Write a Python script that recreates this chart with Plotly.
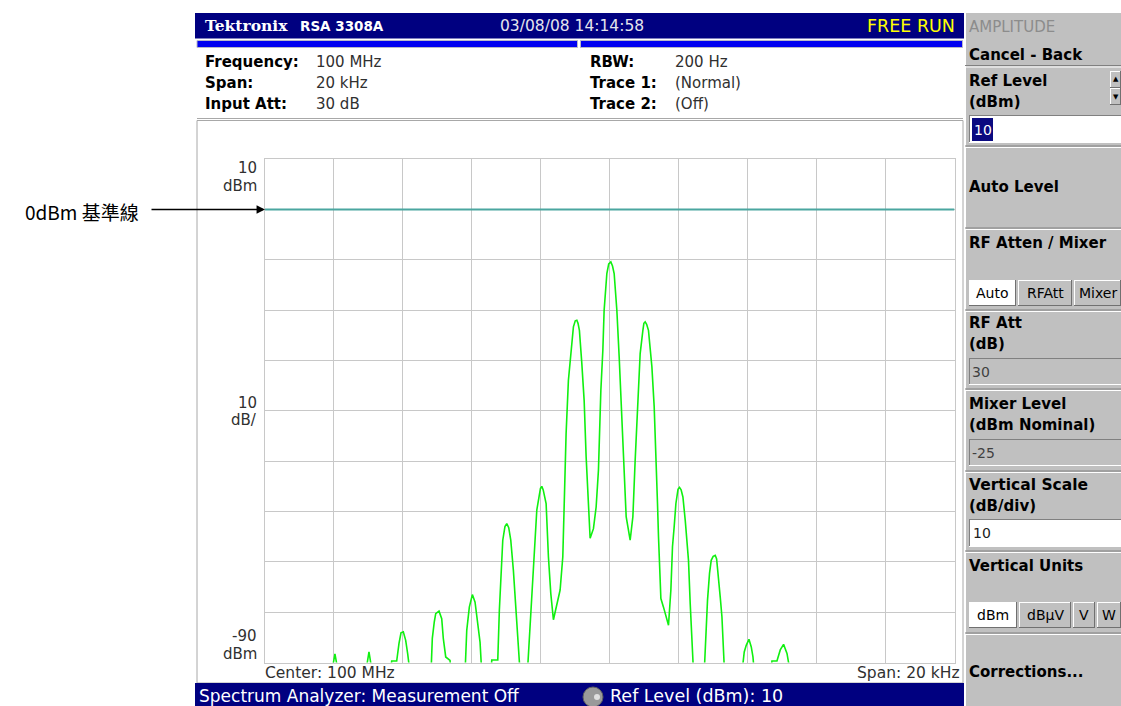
import plotly.graph_objects as go

# ---------------- data ----------------
# frequency offset from center (kHz) and level (dBm)
trace_khz = [-10.0, -8.067, -7.971, -7.875, -7.080, -6.984, -6.888,
             -6.360, -6.325, -6.180, -6.113, -6.055, -5.988, -5.919, -5.861, -5.794,
             -5.184, -5.147, -5.089, -5.048, -4.952, -4.874, -4.828, -4.758, -4.633, -4.604,
             -4.197, -4.148, -4.073, -3.985, -3.907, -3.840, -3.762, -3.713,
             -3.443, -3.422, -3.277, -3.248, -3.202, -3.152, -3.103, -3.040, -2.987, -2.930, -2.871, -2.795, -2.717, -2.650, -2.601,
             -2.389, -2.331, -2.261, -2.194, -2.116, -2.010, -1.971, -1.930, -1.846, -1.779, -1.710, -1.634, -1.536, -1.440,
             -1.362, -1.332, -1.266, -1.199, -1.129, -1.054, -1.000, -0.955, -0.920, -0.880, -0.810, -0.743, -0.685, -0.618, -0.569,
             -0.473, -0.395, -0.328, -0.258, -0.200, -0.163, -0.084, -0.030, 0.032, 0.080, 0.128, 0.206, 0.273, 0.331, 0.398, 0.476,
             0.592, 0.671, 0.737, 0.804, 0.882, 0.961, 0.990, 1.028, 1.070, 1.123, 1.222, 1.289, 1.347, 1.385, 1.414, 1.443, 1.483,
             1.559, 1.704, 1.773, 1.820, 1.869, 1.919, 1.980, 2.023, 2.070, 2.122, 2.189, 2.284, 2.334, 2.383, 2.430,
             2.740, 2.790, 2.836, 2.894, 2.943, 3.000, 3.060, 3.100, 3.138, 3.205, 3.254, 3.300, 3.329,
             3.835, 3.901, 3.959, 4.038, 4.105, 4.154, 4.192,
             4.671, 4.705, 4.850, 4.946, 5.042, 5.141, 5.237, 10.0]
trace_dbm = [-92, -92, -88.3, -92, -92, -87.9, -92,
             -92, -89.7, -89.7, -86.2, -84.1, -83.9, -85.6, -88.3, -92,
             -92, -85.2, -81.9, -80.3, -79.8, -81.3, -85.2, -88.9, -89.6, -92,
             -92, -83.6, -79.0, -76.5, -78.0, -82.0, -86.0, -92,
             -92, -89.5, -89.5, -89.5, -79.6, -71.7, -65.7, -63.0, -62.4, -63.2, -65.7, -71.7, -79.0, -86.9, -92,
             -92, -85.6, -76.3, -69.7, -59.7, -55.4, -55.0, -55.7, -58.4, -69.0, -76.3, -81.5, -78.3, -75.6,
             -69.0, -60.4, -44.5, -33.9, -27.9, -23.3, -22.1, -22.0, -22.6, -24.0, -30.6, -37.9, -49.1, -57.7, -65.3,
             -63.4, -59.1, -51.8, -35.9, -27.9, -20.0, -12.7, -10.8, -10.4, -11.2, -12.7, -20.0, -29.2, -39.2, -50.4, -61.0,
             -65.7, -61.0, -49.8, -39.2, -28.6, -24.0, -22.6, -22.3, -22.8, -24.0, -31.2, -39.2, -49.1, -58.4, -65.0, -71.7, -77.3,
             -79.0, -82.6, -75.6, -67.0, -63.0, -58.4, -55.6, -55.2, -55.7, -57.1, -61.7, -69.7, -78.3, -86.9, -92,
             -92, -84.2, -77.6, -72.3, -69.7, -68.9, -68.7, -69.4, -71.7, -77.0, -80.9, -87.5, -92,
             -92, -87.9, -86.6, -85.4, -86.9, -88.9, -92,
             -92, -89.7, -89.7, -87.5, -86.4, -88.2, -92, -92]

ref_line_khz = [-10, 10]
ref_line_dbm = [0, 0]

span_khz = [-10, 10]
level_range_dbm = [-90, 10]

# ---------------- layout helpers ----------------
W, H = 1121, 706
def X(p): return p / W
def Y(p): return 1 - p / H

shapes = []
annotations = []

def rect(x0, y0, x1, y1, fill, line=None, lw=0, layer="below"):
    shapes.append(dict(type="rect", xref="paper", yref="paper",
                       x0=X(x0), x1=X(x1), y0=Y(y1), y1=Y(y0),
                       fillcolor=fill, layer=layer,
                       line=dict(width=lw, color=line if line else fill)))

def hline(x0, x1, y, color, lw=1):
    shapes.append(dict(type="line", xref="paper", yref="paper",
                       x0=X(x0), x1=X(x1), y0=Y(y), y1=Y(y),
                       line=dict(width=lw, color=color), layer="below"))

def vline(x, y0, y1, color, lw=1):
    shapes.append(dict(type="line", xref="paper", yref="paper",
                       x0=X(x), x1=X(x), y0=Y(y0), y1=Y(y1),
                       line=dict(width=lw, color=color), layer="below"))

def text(x, y, s, size=15, color="#000", anchor="left", family="DejaVu Sans", weight="normal"):
    if anchor == "left":
        x -= 2
    elif anchor == "right":
        x += 2
    annotations.append(dict(xref="paper", yref="paper", x=X(x), y=Y(y), text=s,
                            showarrow=False, xanchor=anchor, yanchor="middle",
                            font=dict(size=size, color=color, family=family, weight=weight)))

def sunken_box(x0, y0, x1, y1, fill):
    rect(x0, y0, x1, y1, fill)
    hline(x0, x1, y0 + 0.5, "#808080")
    vline(x0 + 0.5, y0, y1, "#808080")
    hline(x0, x1, y1 - 0.5, "#ffffff")

def button(x0, y0, x1, y1, fill):
    rect(x0, y0, x1, y1, fill)
    hline(x0, x1, y0 + 0.5, "#ffffff")
    vline(x0 + 0.5, y0, y1, "#ffffff")
    hline(x0, x1, y1 - 0.5, "#707070")
    vline(x1 - 0.5, y0, y1, "#707070")

# ---------------- header / info area ----------------
rect(195, 13, 964, 38.5, "#000080")
rect(197, 40.5, 577.5, 47.5, "#0000f0", "#b8b8c8", 1)
rect(580.5, 40.5, 962.5, 47.5, "#0000f0", "#b8b8c8", 1)
text(205, 26, "Tektronix", 15.5, "#ffffff", family="DejaVu Serif", weight="bold")
text(300, 26, "RSA 3308A", 13.5, "#ffffff", weight="bold")
text(500, 26, "03/08/08 14:14:58", 15.5, "#e6e6ee")
text(955, 26, "FREE RUN", 17.5, "#ffff00", anchor="right")

hline(197, 963, 118.5, "#a8a8a8")
FL = "DejaVu Sans"
for (lx, vx, rows) in [(205, 316, [("Frequency:", "100 MHz"), ("Span:", "20 kHz"), ("Input Att:", "30 dB")]),
                       (590, 675, [("RBW:", "200 Hz"), ("Trace 1:", "(Normal)"), ("Trace 2:", "(Off)")])]:
    for i, (a, b) in enumerate(rows):
        yy = 62 + 21 * i
        text(lx, yy, a, 15, "#000000", family=FL, weight="bold")
        text(vx, yy, b, 15, "#303030", family=FL)

# graph frame
rect(197, 120.5, 963, 683, "#ffffff", "#a8a8a8", 1)

# y labels and bottom labels
GL = "DejaVu Sans"
text(257, 168, "10", 15, "#303030", "right", GL)
text(257, 186, "dBm", 15, "#303030", "right", GL)
text(257, 403, "10", 15, "#303030", "right", GL)
text(257, 420, "dB/", 15, "#303030", "right", GL)
text(257, 636, "-90", 15, "#303030", "right", GL)
text(257, 654, "dBm", 15, "#303030", "right", GL)
text(265, 673, "Center: 100 MHz", 15.5, "#303030", "left", GL)
text(960, 673, "Span: 20 kHz", 15.5, "#303030", "right", GL)

# bottom status bar
rect(195, 683, 964, 706, "#000080")
text(199, 696, "Spectrum Analyzer: Measurement Off", 17, "#ffffff")
shapes.append(dict(type="circle", xref="paper", yref="paper", x0=X(583), x1=X(603),
                   y0=Y(707), y1=Y(687), fillcolor="#9a9a9a", line=dict(width=1, color="#606060"), layer="above"))
shapes.append(dict(type="circle", xref="paper", yref="paper", x0=X(594), x1=X(600),
                   y0=Y(700), y1=Y(694), fillcolor="#e0e0e0", line=dict(width=0), layer="above"))
text(610, 696, "Ref Level (dBm): 10", 17.5, "#ffffff")

# ---------------- right panel ----------------
rect(965, 13, 1121, 706, "#c0c0c0")
vline(965.5, 13, 706, "#ffffff")
PF = "DejaVu Sans"
text(969, 27, "AMPLITUDE", 15, "#8c8c8c", family=PF)
text(969, 55, "Cancel - Back", 15, "#000000", family=PF, weight="bold")
for ys in [65.5, 146, 228, 310, 389, 471, 551, 633]:
    hline(965, 1121, ys, "#808080")
    hline(965, 1121, ys + 1.5, "#ffffff")

text(969, 81, "Ref Level", 15, "#000", family=PF, weight="bold")
text(969, 102, "(dBm)", 15, "#000", family=PF, weight="bold")
button(1110, 71, 1121, 88, "#c0c0c0")
button(1110, 88, 1121, 105, "#c0c0c0")
text(1115.5, 79, "▲", 7, "#000", "center")
text(1115.5, 97, "▼", 7, "#000", "center")
sunken_box(969, 115, 1121, 143, "#ffffff")
rect(972, 118, 993, 141, "#0a0a80")
text(974, 129.5, "10", 14, "#ffffff", family=PF)

text(969, 187, "Auto Level", 15, "#000", family=PF, weight="bold")
text(969, 243, "RF Atten / Mixer", 15, "#000", family=PF, weight="bold")
button(969, 280, 1016, 306, "#ffffff")
button(1018, 280, 1072, 306, "#c0c0c0")
button(1074, 280, 1121, 306, "#c0c0c0")
text(992.5, 293, "Auto", 14, "#000", "center", PF)
text(1045, 293, "RFAtt", 14, "#000", "center", PF)
text(1097.5, 293, "Mixer", 14, "#000", "center", PF)

text(969, 323, "RF Att", 15, "#000", family=PF, weight="bold")
text(969, 344, "(dB)", 15, "#000", family=PF, weight="bold")
sunken_box(969, 358, 1121, 385, "#c0c0c0")
text(972, 371.5, "30", 14, "#404040", family=PF)

text(969, 404, "Mixer Level", 15, "#000", family=PF, weight="bold")
text(969, 425, "(dBm Nominal)", 15, "#000", family=PF, weight="bold")
sunken_box(969, 439, 1121, 466, "#c0c0c0")
text(972, 452.5, "-25", 14, "#404040", family=PF)

text(969, 485, "Vertical Scale", 15.5, "#000", family=PF, weight="bold")
text(969, 506, "(dB/div)", 15, "#000", family=PF, weight="bold")
sunken_box(969, 519, 1121, 547, "#ffffff")
text(973, 533, "10", 14, "#202020", family=PF)

text(969, 566, "Vertical Units", 15, "#000", family=PF, weight="bold")
button(969, 602, 1017, 628, "#ffffff")
button(1019, 602, 1071, 628, "#c0c0c0")
button(1073, 602, 1095, 628, "#c0c0c0")
button(1097, 602, 1121, 628, "#c0c0c0")
text(993, 615, "dBm", 14, "#000", "center", PF)
text(1045, 615, "dBμV", 14, "#000", "center", PF)
text(1084, 615, "V", 14, "#000", "center", PF)
text(1109, 615, "W", 14, "#000", "center", PF)

text(969, 672, "Corrections...", 15, "#000", family=PF, weight="bold")

# ---------------- left callout ----------------
text(25, 212, "0dBm 基準線", 19, "#000000", family="Noto Sans CJK TC")
annotations.append(dict(xref="paper", yref="paper", x=X(265), y=Y(209.5), ax=-115, ay=0,
                        axref="pixel", ayref="pixel", text="", showarrow=True,
                        arrowhead=2, arrowsize=1.3, arrowwidth=1.3, arrowcolor="#000000"))

# ---------------- figure ----------------
fig = go.Figure()
fig.add_trace(go.Scatter(x=ref_line_khz, y=ref_line_dbm, mode="lines",
                         line=dict(color="#4aa6a0", width=2), hoverinfo="skip", showlegend=False))
fig.add_trace(go.Scatter(x=trace_khz, y=trace_dbm, mode="lines",
                         line=dict(color="#10f010", width=1.6), showlegend=False))

fig.update_layout(
    width=W, height=H,
    margin=dict(l=0, r=0, t=0, b=0),
    paper_bgcolor="#ffffff", plot_bgcolor="#ffffff",
    shapes=shapes, annotations=annotations,
    xaxis=dict(domain=[X(265), X(954.5)], range=span_khz, dtick=2, tick0=-10,
               showgrid=True, gridcolor="#c8c8c8", gridwidth=1, zeroline=False,
               showline=True, mirror=True, linecolor="#c8c8c8", linewidth=1,
               showticklabels=False, ticks="", fixedrange=True),
    yaxis=dict(domain=[Y(662.5), Y(159.3)], range=level_range_dbm, dtick=10, tick0=-90,
               showgrid=True, gridcolor="#c8c8c8", gridwidth=1, zeroline=False,
               showline=True, mirror=True, linecolor="#c8c8c8", linewidth=1,
               showticklabels=False, ticks="", fixedrange=True),
    showlegend=False,
)
fig.write_html("out.html", config={"displayModeBar": False},
               post_script="document.body.style.margin='0';document.body.style.overflow='hidden';")
